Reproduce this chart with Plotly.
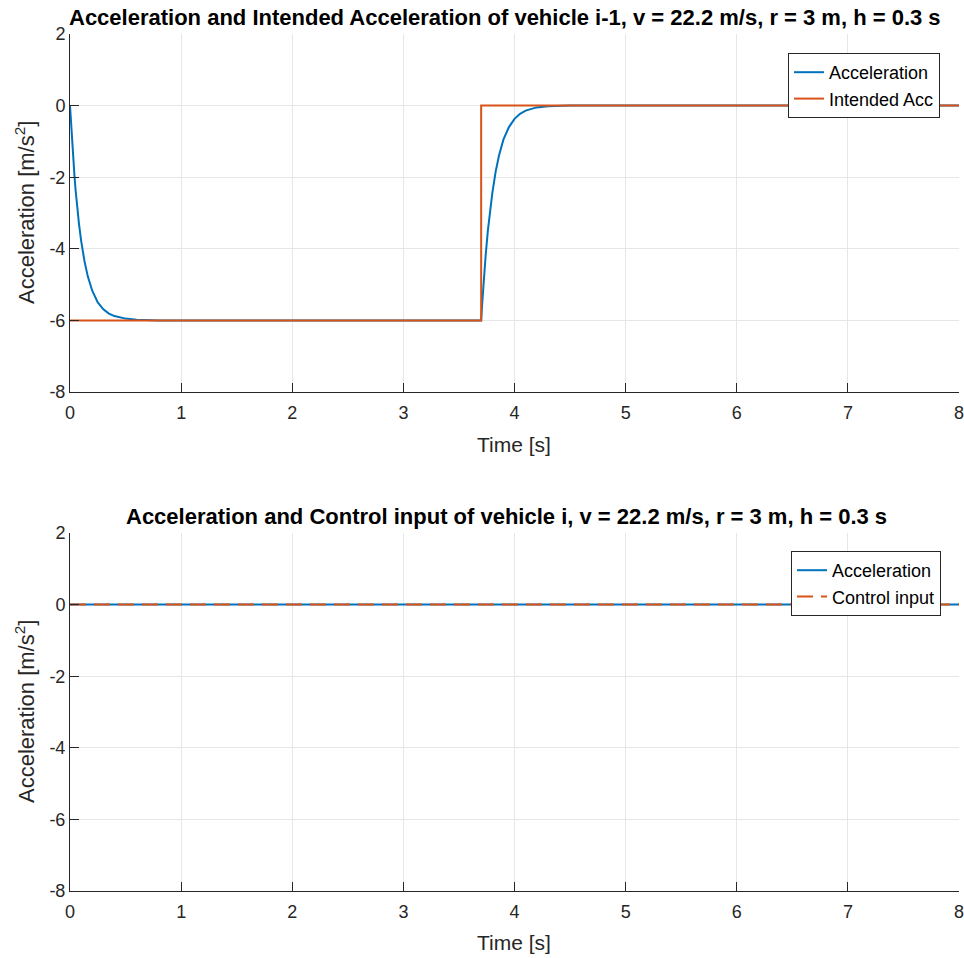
import plotly.graph_objects as go

# ---- data ----
t_acc_top = [0, 0.01, 0.02, 0.03, 0.04, 0.05, 0.06, 0.08, 0.10, 0.13, 0.16, 0.20, 0.25, 0.30, 0.35, 0.40, 0.50, 0.60, 0.80,
             3.70, 3.71, 3.72, 3.74, 3.76, 3.78, 3.80, 3.83, 3.86, 3.90, 3.95, 4.00, 4.05, 4.10, 4.20, 4.30, 4.50, 8.0]
a_acc_top = [0, -0.57, -1.05, -1.55, -1.95, -2.35, -2.68, -3.28, -3.77, -4.34, -4.77, -5.17, -5.50, -5.69, -5.81, -5.88,
             -5.95, -5.98, -6.0,
             -6.0, -5.5, -5.0, -4.2, -3.5, -2.95, -2.45, -1.85, -1.40, -0.95, -0.60, -0.37, -0.23, -0.14, -0.05, -0.02,
             0, 0]
t_int = [0, 3.7, 3.7, 8.0]
a_int = [-6, -6, 0, 0]

t_bot = [0, 8.0]
a_acc_bot = [0, 0]
u_ctrl_bot = [0, 0]

x_ticks = [0, 1, 2, 3, 4, 5, 6, 7, 8]
x_tick_text = ["0", "1", "2", "3", "4", "5", "6", "7", "8"]
y_ticks = [-8, -6, -4, -2, 0, 2]
y_tick_text = ["-8", "-6", "-4", "-2", "0", "2"]

title_top = "Acceleration and Intended Acceleration of vehicle i-1, v = 22.2 m/s, r = 3 m, h = 0.3 s"
title_bot = "Acceleration and Control input of vehicle i, v = 22.2 m/s, r = 3 m, h = 0.3 s"

BLUE = "#0072BD"
ORANGE = "#D95319"
AX = "#262626"
FONT = "Liberation Sans, Arial, sans-serif"

W, H = 964, 958

fig = go.Figure()
fig.add_trace(go.Scatter(x=t_acc_top, y=a_acc_top, mode="lines", name="Acceleration",
                         line=dict(color=BLUE, width=2), xaxis="x", yaxis="y", legend="legend"))
fig.add_trace(go.Scatter(x=t_int, y=a_int, mode="lines", name="Intended Acc",
                         line=dict(color=ORANGE, width=2), xaxis="x", yaxis="y", legend="legend"))
fig.add_trace(go.Scatter(x=t_bot, y=a_acc_bot, mode="lines", name="Acceleration",
                         line=dict(color=BLUE, width=2), xaxis="x2", yaxis="y2", legend="legend2"))
fig.add_trace(go.Scatter(x=t_bot, y=u_ctrl_bot, mode="lines", name="Control input",
                         line=dict(color=ORANGE, width=2, dash="16px,8px"), xaxis="x2", yaxis="y2", legend="legend2"))


def px_x(p):
    return p / W


def px_y(p):
    return 1 - p / H


xdom = [px_x(70), px_x(959)]
top_dom = [px_y(392), px_y(34)]
bot_dom = [px_y(891), px_y(533)]

axis_common = dict(showgrid=True, gridcolor="#e6e6e6", gridwidth=1, zeroline=False,
                   showline=True, linecolor=AX, linewidth=1, ticks="inside", ticklen=9,
                   tickcolor=AX, tickfont=dict(family=FONT, size=18, color=AX), mirror=False,
                   automargin=False, ticklabeloverflow="allow")
xaxis_common = dict(range=[0, 8], tickvals=x_ticks, ticktext=x_tick_text, tickmode="array",
                    ticklabelstandoff=4, **axis_common)
yaxis_common = dict(range=[-8, 2], tickvals=y_ticks, ticktext=y_tick_text, tickmode="array", **axis_common)

fig.update_layout(
    template="none",
    width=W, height=H, margin=dict(l=0, r=0, t=0, b=0, pad=0, autoexpand=False),
    paper_bgcolor="white", plot_bgcolor="white",
    font=dict(family=FONT, color=AX),
    xaxis=dict(domain=xdom, anchor="y", **xaxis_common),
    yaxis=dict(domain=top_dom, anchor="x", **yaxis_common),
    xaxis2=dict(domain=xdom, anchor="y2", **xaxis_common),
    yaxis2=dict(domain=bot_dom, anchor="x2", **yaxis_common),
    legend=dict(x=px_x(940), y=px_y(53), xanchor="right", yanchor="top",
                bgcolor="white", bordercolor=AX, borderwidth=1, tracegroupgap=0,
                font=dict(family=FONT, size=18, color="black")),
    legend2=dict(x=px_x(941), y=px_y(551), xanchor="right", yanchor="top",
                 bgcolor="white", bordercolor=AX, borderwidth=1, tracegroupgap=0,
                 font=dict(family=FONT, size=18, color="black")),
)

annotations = [
    dict(text="<b>" + title_top + "</b>", x=px_x(505), y=px_y(18), xref="paper", yref="paper",
         showarrow=False, font=dict(family=FONT, size=22, color="black"), xanchor="center", yanchor="middle"),
    dict(text="<b>" + title_bot + "</b>", x=px_x(506), y=px_y(516), xref="paper", yref="paper",
         showarrow=False, font=dict(family=FONT, size=22, color="black"), xanchor="center", yanchor="middle"),
    dict(text="Time [s]", x=px_x(514), y=px_y(444), xref="paper", yref="paper",
         showarrow=False, font=dict(family=FONT, size=21, color=AX), xanchor="center", yanchor="middle"),
    dict(text="Time [s]", x=px_x(514), y=px_y(942), xref="paper", yref="paper",
         showarrow=False, font=dict(family=FONT, size=21, color=AX), xanchor="center", yanchor="middle"),
    dict(text="Acceleration [m/s<sup>2</sup>]", x=px_x(25), y=px_y(213), xref="paper", yref="paper",
         showarrow=False, textangle=-90, font=dict(family=FONT, size=22, color=AX), xanchor="center", yanchor="middle"),
    dict(text="Acceleration [m/s<sup>2</sup>]", x=px_x(25), y=px_y(712), xref="paper", yref="paper",
         showarrow=False, textangle=-90, font=dict(family=FONT, size=22, color=AX), xanchor="center", yanchor="middle"),
]
fig.update_layout(annotations=annotations)

fig.write_html("out.html")
